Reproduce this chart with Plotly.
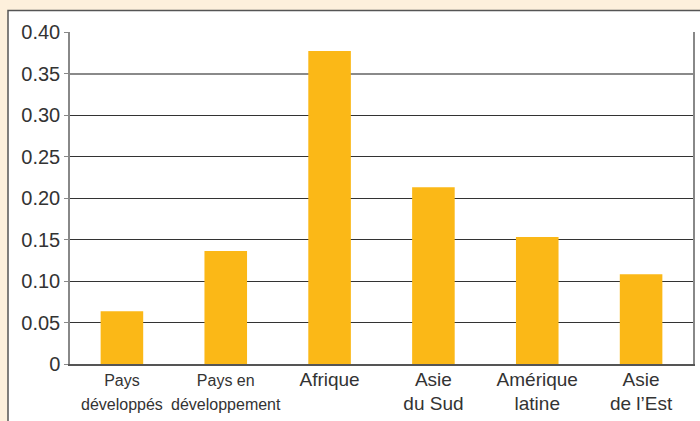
import plotly.graph_objects as go

categories = ["Pays développés", "Pays en développement", "Afrique",
              "Asie du Sud", "Amérique latine", "Asie de l’Est"]
tick_labels = ["<span style='font-size:16px'>Pays<br>développés</span>",
               "<span style='font-size:16px'>Pays en<br>développement</span>",
               "Afrique", "Asie<br>du Sud", "Amérique<br>latine", "Asie<br>de l’Est"]
values = [0.0635, 0.136, 0.377, 0.213, 0.153, 0.108]
y_ticks = [0, 0.05, 0.10, 0.15, 0.20, 0.25, 0.30, 0.35, 0.40]
y_tick_labels = ["0", "0.05", "0.10", "0.15", "0.20", "0.25", "0.30", "0.35", "0.40"]
light_grid = [0.35, 0.40]

FONT = "Liberation Sans"
W, H = 700, 421
ML, MR, MT, MB = 70, 7, 32, 57
pw, ph = W - ML - MR, H - MT - MB

fig = go.Figure()
fig.add_trace(go.Bar(x=categories, y=values, marker=dict(color="#FBB817", line=dict(width=0)),
                     width=0.41, hoverinfo="skip"))
# invisible helper trace so the overlay axis (lighter upper gridlines) is rendered
fig.add_trace(go.Scatter(x=categories, y=values, yaxis="y2", mode="markers",
                         marker=dict(opacity=0), hoverinfo="skip"))

fig.update_layout(
    width=W, height=H,
    margin=dict(l=ML, r=MR, t=MT, b=MB, autoexpand=False),
    paper_bgcolor="#FDF0DC",
    plot_bgcolor="rgba(0,0,0,0)",
    showlegend=False,
    font=dict(family=FONT, color="#333333"),
    xaxis=dict(
        showgrid=False, showline=True, linecolor="#555555", linewidth=1.5,
        ticks="", tickvals=categories, ticktext=tick_labels, ticklabelstandoff=-3,
        tickfont=dict(size=19, color="#333333"), fixedrange=True, automargin=False,
    ),
    yaxis=dict(
        range=[0, 0.4], tickvals=y_ticks, ticktext=y_tick_labels,
        showgrid=True, gridcolor="#333333", gridwidth=1.2, zeroline=False,
        showline=True, mirror=True, linecolor="#888888", linewidth=1.5,
        ticks="outside", ticklen=4, tickcolor="#888888",
        tickfont=dict(size=20, color="#333333"), fixedrange=True,
        automargin=False,
    ),
    yaxis2=dict(
        overlaying="y", range=[0, 0.4], tickvals=light_grid, showticklabels=False,
        showgrid=True, gridcolor="#8a8a8a", gridwidth=1.6, zeroline=False,
        showline=False, ticks="", fixedrange=True, automargin=False,
    ),
    shapes=[dict(
        type="rect", xref="paper", yref="paper", layer="below",
        x0=(8 - ML) / pw, x1=(W + 5 - ML) / pw,
        y0=-(H + 5 - (MT + ph)) / ph, y1=(MT + ph - 10.5) / ph,
        fillcolor="white", line=dict(color="#555555", width=1.5),
    )],
)

fig.write_html("out.html", config={"displayModeBar": False},
               post_script="document.body.style.margin='0';")
